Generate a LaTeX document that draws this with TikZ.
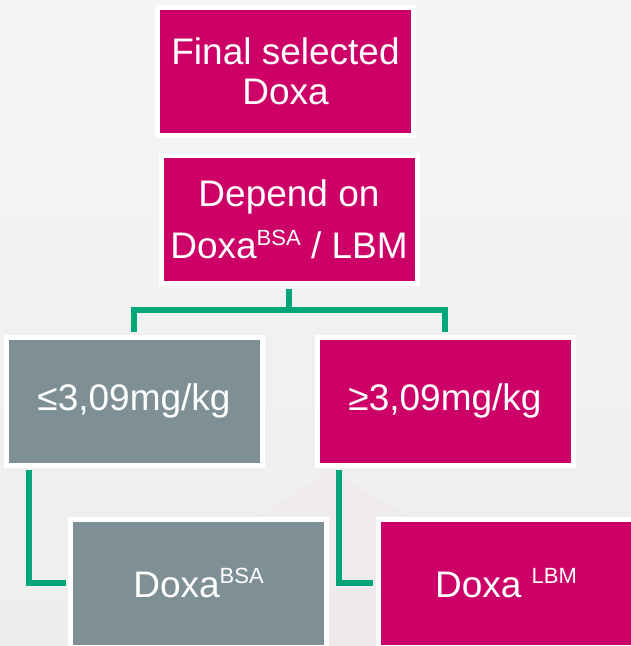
\documentclass[tikz,border=0pt]{standalone}
\usepackage{fontspec}
\setmainfont{Liberation Sans}
\usetikzlibrary{positioning}
\definecolor{doxapink}{HTML}{CC0066}
\definecolor{doxagrey}{HTML}{7E9095}
\definecolor{linkgreen}{HTML}{00A67A}
\definecolor{slidebg}{HTML}{EEEEEF}
\newcommand{\supx}[1]{\raisebox{0.36em}{\fontsize{22}{22}\selectfont #1}}
\tikzset{
  box/.style={draw=white,line width=5pt,minimum width=256pt,minimum height=128pt,inner sep=0pt,align=center,text=white,font=\fontsize{37}{40}\selectfont},
  pinkbox/.style={box,fill=doxapink},
  greybox/.style={box,fill=doxagrey},
  link/.style={linkgreen,line width=5.5pt},
}

\begin{document}
\begin{tikzpicture}[x=1pt,y=-1pt]
\useasboundingbox (0,0) rectangle (631,646);
\clip (0,0) rectangle (631,646);
% slide background
\shade[top color=slidebg!60,bottom color=slidebg] (0,0) rectangle (631,646);
\fill[doxapink,opacity=0.02] (60,646) -- (330,470) -- (631,646) -- cycle;
% the boxes
\node[pinkbox] (final) at (285.5,71.5) {Final selected\\Doxa};
\node[pinkbox] (depend) at (289,219.5) {Depend on\\[12pt]Doxa\supx{BSA} / LBM};
\node[greybox] (low) at (134,401) {≤3,09mg/kg};
\node[pinkbox] (high) at (445,401) {≥3,09mg/kg};
\node[greybox] (bsa) at (198.5,583) {Doxa\supx{BSA}};
\node[pinkbox] (lbm) at (506,583) {Doxa \supx{LBM}};
% connectors
\coordinate (fork) at (289,310);
\draw[link,shorten <=2.5pt] (depend.south) -- (fork);
\draw[link,shorten >=2.5pt] (fork) -| (low.north);
\draw[link,shorten >=2.5pt] (fork) -| (high.north);
\draw[link,shorten <=2.5pt,shorten >=2.5pt] ([xshift=25.5pt]low.south west) |- (bsa.west);
\draw[link,shorten <=2.5pt,shorten >=2.5pt] ([xshift=24.5pt]high.south west) |- (lbm.west);
\end{tikzpicture}
\end{document}
